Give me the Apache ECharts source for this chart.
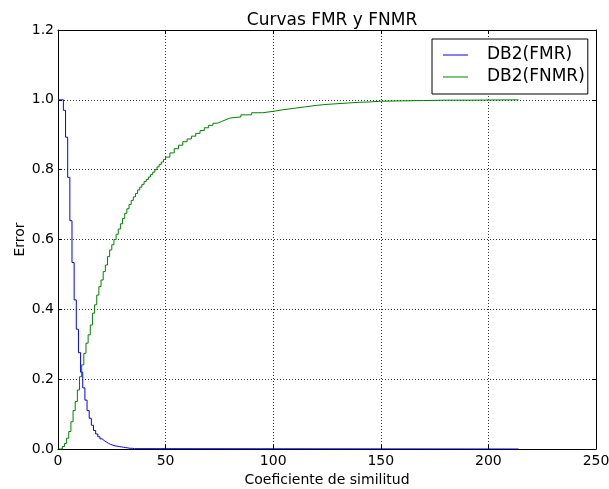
<!DOCTYPE html>
<html>
<head>
<meta charset="utf-8">
<script src="https://cdn.jsdelivr.net/npm/echarts@6/dist/echarts.min.js"></script>
<style>
  html, body { margin: 0; padding: 0; background: #fff; }
  #main { width: 609px; height: 489px; }
</style>
</head>
<body>
<div id="main"></div>
<script>
const fmrX = [0, 2.5, 3.5, 4.5, 5.5, 6.5, 7.5, 8.5, 9.5, 10.5, 11.5, 12.5, 13.5, 14.5, 15.5, 16.5,
  17.5, 18.5, 19.5, 20.5, 21.5, 22.5, 23.5, 24.5, 25.5, 26.5, 27.5, 28.5, 29.5, 30.5, 31.5,
  32.5, 33.5, 34.5, 35.5, 214];
const fmrY = [1.0, 0.97, 0.893, 0.778, 0.654, 0.534, 0.427, 0.343, 0.276, 0.220, 0.175, 0.140,
  0.110, 0.088, 0.068, 0.053, 0.043, 0.035, 0.029, 0.024, 0.020, 0.016, 0.013, 0.011, 0.009,
  0.008, 0.007, 0.006, 0.005, 0.004, 0.003, 0.002, 0.002, 0.001, 0.0, 0.0];

const fnmrX = [0, 2, 3, 4, 5, 6, 7, 8, 9, 10, 11, 12, 13, 14, 15, 16, 17, 18, 19, 20, 21, 22, 23,
  24, 25, 26, 27, 28, 29, 30, 31, 32, 33, 34, 35, 36, 37, 38, 39, 40, 41, 42, 43, 44, 45, 46,
  47, 48, 49, 50, 52, 54, 56, 58, 60, 62, 64, 66, 68, 70, 72, 74, 76, 78, 80, 85, 90, 95, 100,
  105, 110, 115, 120, 125, 130, 135, 140, 145, 150, 160, 170, 180, 190, 214];
const fnmrY = [0, 0.007, 0.016, 0.031, 0.050, 0.078, 0.110, 0.136, 0.169, 0.207, 0.241, 0.274,
  0.303, 0.327, 0.355, 0.389, 0.413, 0.441, 0.465, 0.484, 0.508, 0.527, 0.551, 0.570, 0.585,
  0.600, 0.615, 0.630, 0.645, 0.660, 0.675, 0.688, 0.700, 0.712, 0.722, 0.732, 0.742, 0.750,
  0.758, 0.766, 0.772, 0.779, 0.786, 0.793, 0.800, 0.808, 0.815, 0.822, 0.829, 0.836, 0.848,
  0.860, 0.870, 0.880, 0.888, 0.896, 0.904, 0.912, 0.920, 0.927, 0.933, 0.938, 0.943, 0.948,
  0.951, 0.957, 0.963, 0.967, 0.972, 0.976, 0.980, 0.984, 0.987, 0.989, 0.991, 0.993, 0.994,
  0.996, 0.997, 0.998, 0.999, 0.999, 1.0, 1.0];

const seriesNames = ['DB2(FMR)', 'DB2(FNMR)'];
const xTicks = { min: 0, max: 250, interval: 50 };
const yTicks = { min: 0, max: 1.2, interval: 0.2 };

const font = 'DejaVu Sans';
const pairs = (xs, ys) => xs.map((x, i) => [x, ys[i]]);

// ——— ejes comunes ———
const frame = {
  axisLine: { show: true, onZero: false, lineStyle: { color: '#000', width: 1 } },
  axisTick: { show: true, inside: true, length: 4, lineStyle: { color: '#000' } },
  splitLine: { show: false }
};
const grid = { show: true, lineStyle: { color: '#333', width: 1, type: [1, 2] } };

const chart = echarts.init(document.getElementById('main'), null, { renderer: 'canvas' });
chart.setOption({
  animation: false,
  backgroundColor: '#fff',
  textStyle: { fontFamily: font },
  title: {
    text: 'Curvas FMR y FNMR',
    left: 327, top: 7, textAlign: 'center',
    textStyle: { fontFamily: font, fontSize: 17, fontWeight: 'normal', color: '#000' }
  },
  legend: {
    data: seriesNames,
    orient: 'vertical',
    left: 432, top: 39,
    padding: [7, 3, 8, 11],
    itemGap: 4,
    itemWidth: 25, itemHeight: 1,
    icon: 'rect',
    borderColor: '#000', borderWidth: 1, borderRadius: 0,
    backgroundColor: '#fff',
    textStyle: { fontFamily: font, fontSize: 17, lineHeight: 18, color: '#000', padding: [0, 0, 0, 14] }
  },
  grid: { left: 58, right: 13, top: 30, bottom: 40, containLabel: false, outerBoundsMode: 'none' },
  xAxis: [{
    type: 'value', position: 'bottom', ...xTicks, ...frame,
    splitLine: grid,
    name: 'Coeficiente de similitud', nameLocation: 'middle', nameGap: 24,
    nameTextStyle: { fontFamily: font, fontSize: 14, color: '#000' },
    axisLabel: { fontFamily: font, fontSize: 14, color: '#000', margin: 5 }
  }, {
    type: 'value', position: 'top', ...xTicks, ...frame,
    axisLabel: { show: false }
  }],
  yAxis: [{
    type: 'value', position: 'left', ...yTicks, ...frame,
    splitLine: grid,
    name: 'Error', nameLocation: 'middle', nameGap: 31, nameMoveOverlap: false,
    nameTextStyle: { fontFamily: font, fontSize: 14, color: '#000' },
    axisLabel: { fontFamily: font, fontSize: 14, color: '#000', margin: 4,
      formatter: v => v.toFixed(1) }
  }, {
    type: 'value', position: 'right', ...yTicks, ...frame,
    axisLabel: { show: false }
  }],
  series: [{
    name: seriesNames[0], type: 'line', step: 'end',
    data: pairs(fmrX, fmrY),
    showSymbol: false, symbol: 'none',
    lineStyle: { color: '#0000ff', width: 1 }, itemStyle: { color: '#0000ff' },
    z: 3
  }, {
    name: seriesNames[1], type: 'line', step: 'end',
    data: pairs(fnmrX, fnmrY),
    showSymbol: false, symbol: 'none',
    lineStyle: { color: '#008000', width: 1 }, itemStyle: { color: '#008000' },
    z: 3
  }]
});
</script>
</body>
</html>
